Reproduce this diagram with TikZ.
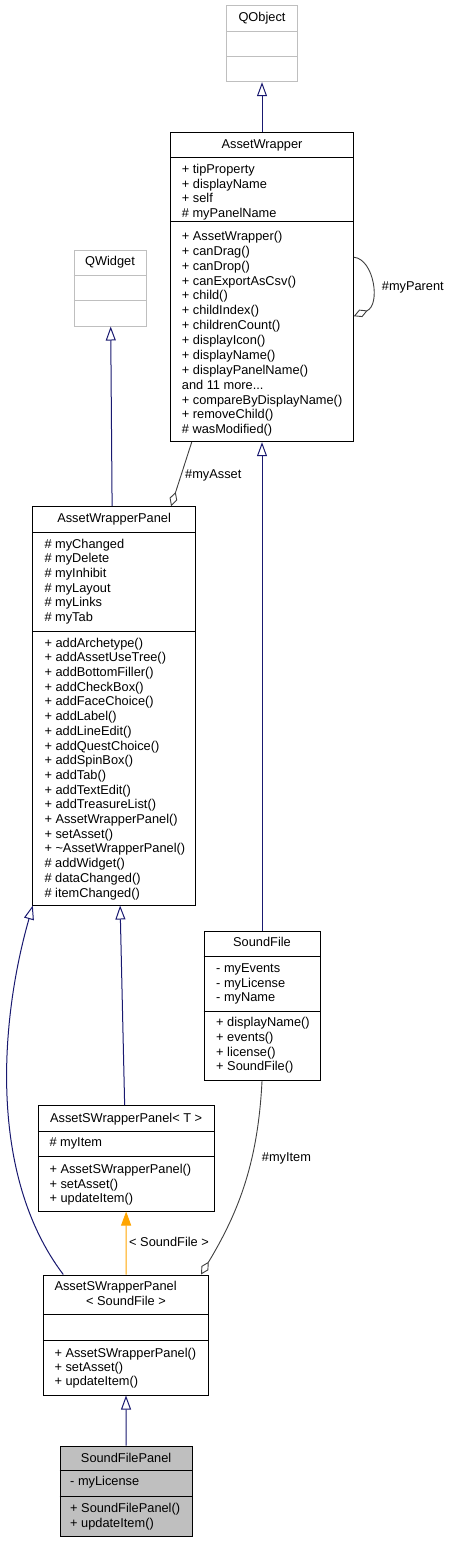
\documentclass[tikz,border=0pt]{standalone}
\usepackage{fontspec}
\setmainfont{Liberation Sans}
\usetikzlibrary{arrows.meta,calc}
\definecolor{navy}{HTML}{191970}
\definecolor{edgegray}{HTML}{404040}
\definecolor{litegray}{HTML}{BFBFBF}
\definecolor{fillgray}{HTML}{BFBFBF}
\definecolor{arrorange}{HTML}{FFA500}
\newcommand\threedots{...}
\newcommand\umlclass[6]{%
  \node[#6, minimum width={#4-#2}, minimum height={#5-#3}] (#1) at ({(#2+#4)/2},{(#3+#5)/2}) {};}
\newcommand\umlsep[3]{%
  \draw[#3] (#1.west |- 0,#2) -- (#1.east |- 0,#2);}
\newcommand\umllines[5]{%
  \foreach \t [count=\i from 0] in {#5} \node[txt] (#1\i) at (#2,{#3+\i*#4}) {\t};}
\begin{document}
\begin{tikzpicture}[x=1pt,y=-1pt,
  font=\fontsize{12.8}{14}\selectfont,
  txt/.style={anchor=base west, inner sep=0pt},
  ttl/.style={anchor=base, inner sep=0pt},
  classbox/.style={draw=black, line width=1pt, inner sep=0pt, fill=white},
  extbox/.style={draw=litegray, line width=1pt, inner sep=0pt, fill=white},
  curbox/.style={draw=black, line width=1pt, inner sep=0pt, fill=fillgray},
  sepline/.style={draw=black, line width=1pt},
  extsep/.style={draw=litegray, line width=1pt},
  gen/.style={draw=navy, line width=1pt, -{Triangle[open, length=14pt, width=10pt, fill=white]}},
  templ/.style={draw=arrorange, line width=1pt, -{Triangle[length=14pt, width=10pt, fill=arrorange]}},
  aggr/.style={draw=edgegray, line width=0.9pt, -{Diamond[open, length=15pt, width=8pt, fill=white]}},
  lbl/.style={anchor=base west, inner sep=0pt}]
\useasboundingbox[fill=white] (0,0) rectangle (448,1543);

% QObject
\umlclass{qo}{226.7}{5.7}{297.3}{81.7}{extbox}
\umlsep{qo}{31.7}{extsep}
\umlsep{qo}{56.7}{extsep}
\node[ttl] (qo-t) at (qo.north |- 0,21) {QObject};

% AssetWrapper
\umlclass{aw}{170.7}{132.7}{353.3}{441.7}{classbox}
\umlsep{aw}{157.7}{sepline}
\umlsep{aw}{221}{sepline}
\node[ttl] (aw-t) at (aw.north |- 0,148.8) {AssetWrapper};
\umllines{aw-a}{181.7}{173.8}{14.57}{+ tipProperty, + displayName, + self, \# myPanelName}
\umllines{aw-m}{181.7}{240.5}{14.87}{+ AssetWrapper(), + canDrag(), + canDrop(), + canExportAsCsv(), + child(), + childIndex(), + childrenCount(), + displayIcon(), + displayName(), + displayPanelName(), and 11 more\threedots, + compareByDisplayName(), + removeChild(), \# wasModified()}

% QWidget
\umlclass{qw}{74}{250}{146}{326}{extbox}
\umlsep{qw}{275}{extsep}
\umlsep{qw}{300.7}{extsep}
\node[ttl] (qw-t) at (qw.north |- 0,265.5) {QWidget};

% AssetWrapperPanel
\umlclass{awp}{32.5}{506.7}{195.7}{905}{classbox}
\umlsep{awp}{532.7}{sepline}
\umlsep{awp}{631}{sepline}
\node[ttl] (awp-t) at (awp.north |- 0,522.8) {AssetWrapperPanel};
\umllines{awp-a}{44.3}{548.1}{14.67}{\# myChanged, \# myDelete, \# myInhibit, \# myLayout, \# myLinks, \# myTab}
\umllines{awp-m}{44.3}{647.1}{14.7}{+ addArchetype(), + addAssetUseTree(), + addBottomFiller(), + addCheckBox(), + addFaceChoice(), + addLabel(), + addLineEdit(), + addQuestChoice(), + addSpinBox(), + addTab(), + addTextEdit(), + addTreasureList(), + AssetWrapperPanel(), + setAsset(), + \textasciitilde AssetWrapperPanel(), \# addWidget(), \# dataChanged(), \# itemChanged()}

% SoundFile
\umlclass{sf}{204}{931.7}{320}{1080.7}{classbox}
\umlsep{sf}{956.7}{sepline}
\umlsep{sf}{1011}{sepline}
\node[ttl] (sf-t) at (sf.north |- 0,946.5) {SoundFile};
\umllines{sf-a}{216}{972.8}{14.35}{- myEvents, - myLicense, - myName}
\umllines{sf-m}{216}{1026.8}{14.6}{+ displayName(), + events(), + license(), + SoundFile()}

% AssetSWrapperPanel< T >
\umlclass{aspT}{38.3}{1105.7}{214}{1211}{classbox}
\umlsep{aspT}{1131.7}{sepline}
\umlsep{aspT}{1156.7}{sepline}
\node[ttl] (aspT-t) at (aspT.north |- 0,1122.1) {AssetSWrapperPanel< T >};
\umllines{aspT-a}{49.3}{1146.5}{14.5}{\# myItem}
\umllines{aspT-m}{49.3}{1173.8}{14.2}{+ AssetSWrapperPanel(), + setAsset(), + updateItem()}

% AssetSWrapperPanel< SoundFile >
\umlclass{asp}{43.3}{1275}{208.7}{1395}{classbox}
\umlsep{asp}{1314}{sepline}
\umlsep{asp}{1340}{sepline}
\node[txt] (asp-t1) at (54.3,1290.5) {AssetSWrapperPanel};
\node[ttl] (asp-t2) at (asp.north |- 0,1305.5) {< SoundFile >};
\umllines{asp-m}{54.3}{1357.1}{14.35}{+ AssetSWrapperPanel(), + setAsset(), + updateItem()}

% SoundFilePanel
\umlclass{sfp}{60}{1446}{192.3}{1536.7}{curbox}
\umlsep{sfp}{1470.7}{sepline}
\umlsep{sfp}{1496.7}{sepline}
\node[ttl] (sfp-t) at (sfp.north |- 0,1462.1) {SoundFilePanel};
\umllines{sfp-a}{70}{1485.5}{15}{- myLicense}
\umllines{sfp-m}{70}{1512.1}{15}{+ SoundFilePanel(), + updateItem()}

% connectors
\draw[gen] (aw.north) -- (qo.south);
\draw[gen] ([xshift=-2pt]awp.north) -- ([xshift=0.7pt]qw.south);
\draw[gen] (sf.north) -- (aw.south);
\draw[gen] ([xshift=-1.5pt]aspT.north) -- ([xshift=6pt]awp.south);
\draw[gen] ([xshift=-62.7pt]asp.north) .. controls (-12,1175) and (0,1020) .. ([xshift=0.8pt]awp.south west);
\draw[gen] (sfp.north) -- (asp.south);
\draw[templ] (asp.north) -- (aspT.south);
\node[lbl] (lbl-sf) at (129,1246.8) {< SoundFile >};
\draw[aggr] ([xshift=-70.3pt]aw.south) -- ([xshift=57pt]awp.north);
\node[lbl] (lbl-asset) at (185,478.8) {\#myAsset};
\draw[aggr] (sf.south) .. controls (258,1160) and (240,1210) .. ([xshift=75pt]asp.north);
\node[lbl] (lbl-item) at (261.7,1161.5) {\#myItem};
\draw[aggr] ([yshift=30pt]aw.east) .. controls (374,259) and (381,305) .. ([yshift=-29pt]aw.east);
\node[lbl] (lbl-parent) at (381.7,290.5) {\#myParent};
\end{tikzpicture}
\end{document}
